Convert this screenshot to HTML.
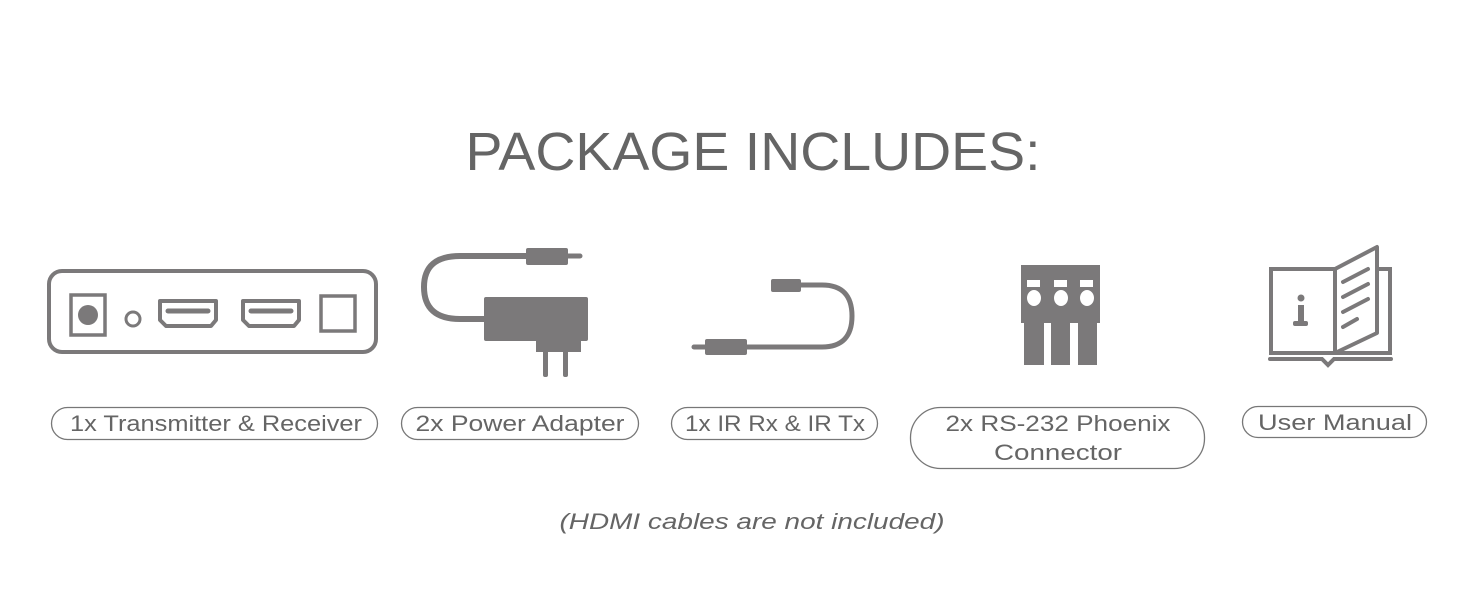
<!DOCTYPE html>
<html><head><meta charset="utf-8"><style>
html,body{margin:0;padding:0;background:#fff;}
svg{display:block;}
text{font-family:"Liberation Sans",sans-serif;fill:#656565;}
</style></head><body>
<svg width="1464" height="600" viewBox="0 0 1464 600" xmlns="http://www.w3.org/2000/svg">
<text x="753" y="170" font-size="54" text-anchor="middle" textLength="575" lengthAdjust="spacingAndGlyphs">PACKAGE INCLUDES:</text>
<g fill="none" stroke="#7b797a">
 <rect x="49" y="271" width="327" height="81" rx="13" stroke-width="4"/>
 <rect x="71" y="295" width="34" height="40" stroke-width="3.5"/>
 <circle cx="133" cy="319" r="7" stroke-width="3"/>
 <path d="M160 301 H216 V320 L211 326 H166 L160 320 Z" stroke-width="4" stroke-linejoin="round"/>
 <line x1="168" y1="311" x2="208" y2="311" stroke-width="5" stroke-linecap="round"/>
 <path d="M243 301 H299 V320 L294 326 H249 L243 320 Z" stroke-width="4" stroke-linejoin="round"/>
 <line x1="251" y1="311" x2="291" y2="311" stroke-width="5" stroke-linecap="round"/>
 <rect x="321" y="296" width="34" height="35" stroke-width="3.5"/>
 <path d="M530 256 H460 Q424 256 424 287 Q424 319 460 319 H486" stroke-width="6"/>
 <path d="M567 256 H580" stroke-width="5" stroke-linecap="round"/>
 <path d="M801 285 H822 Q852 285 852 316 Q852 347 822 347 H745" stroke-width="5"/>
 <path d="M706 347 H694" stroke-width="5" stroke-linecap="round"/>
 <path d="M1271 269 H1335 V353 H1271 Z" stroke-width="4"/>
 <path d="M1335 269 L1377 247 V333 L1335 353" stroke-width="4" stroke-linejoin="round"/>
 <path d="M1377 269 H1390 V353 H1335" stroke-width="4"/>
 <path d="M1270 359 H1322 L1328 365 L1334 359 H1391" stroke-width="4" stroke-linecap="round"/>
 <g stroke-width="4" stroke-linecap="round">
  <line x1="1343" y1="282" x2="1368" y2="269"/>
  <line x1="1343" y1="297" x2="1368" y2="284"/>
  <line x1="1343" y1="312" x2="1368" y2="299"/>
  <line x1="1343" y1="327" x2="1357" y2="319"/>
 </g>
</g>
<g fill="#7b797a">
 <circle cx="88" cy="315" r="10"/>
 <rect x="526" y="248" width="42" height="17" rx="2"/>
 <rect x="484" y="297" width="104" height="44" rx="2"/>
 <rect x="536" y="340" width="45" height="12"/>
 <rect x="543" y="350" width="5" height="27" rx="2"/>
 <rect x="563" y="350" width="5" height="27" rx="2"/>
 <rect x="771" y="279" width="30" height="13" rx="2"/>
 <rect x="705" y="339" width="42" height="16" rx="2"/>
 <rect x="1021" y="265" width="79" height="58"/>
 <rect x="1024" y="322" width="20" height="43"/>
 <rect x="1051" y="322" width="19" height="43"/>
 <rect x="1078" y="322" width="19" height="43"/>
 <circle cx="1301" cy="298" r="3.5"/>
 <rect x="1298" y="305" width="6" height="18"/>
 <rect x="1293" y="321" width="15" height="5" rx="2"/>
</g>
<g fill="#fff">
 <rect x="1027" y="280" width="13" height="7"/>
 <rect x="1054" y="280" width="13" height="7"/>
 <rect x="1080" y="280" width="13" height="7"/>
 <ellipse cx="1034" cy="298" rx="7" ry="8"/>
 <ellipse cx="1061" cy="298" rx="7" ry="8"/>
 <ellipse cx="1087" cy="298" rx="7" ry="8"/>
</g>
<g fill="none" stroke="#777" stroke-width="1.3">
 <rect x="51.5" y="407.5" width="326" height="32" rx="16"/>
 <rect x="401.5" y="407.5" width="237" height="32" rx="16"/>
 <rect x="671.5" y="407.5" width="206" height="32" rx="16"/>
 <rect x="910.5" y="407.5" width="294" height="61" rx="30"/>
 <rect x="1242.5" y="406.5" width="184" height="31" rx="15.5"/>
</g>
<g font-size="22" text-anchor="middle">
 <text x="216" y="431" textLength="292" lengthAdjust="spacingAndGlyphs">1x Transmitter &amp; Receiver</text>
 <text x="520" y="431" textLength="209" lengthAdjust="spacingAndGlyphs">2x Power Adapter</text>
 <text x="775" y="431" textLength="180" lengthAdjust="spacingAndGlyphs">1x IR Rx &amp; IR Tx</text>
 <text x="1058" y="431" textLength="225" lengthAdjust="spacingAndGlyphs">2x RS-232 Phoenix</text>
 <text x="1058" y="460" textLength="128" lengthAdjust="spacingAndGlyphs">Connector</text>
 <text x="1335" y="430" textLength="154" lengthAdjust="spacingAndGlyphs">User Manual</text>
</g>
<text x="752" y="529" font-size="22" font-style="italic" text-anchor="middle" fill="#7a7a7a" textLength="385" lengthAdjust="spacingAndGlyphs">(HDMI cables are not included)</text>
</svg>
</body></html>
